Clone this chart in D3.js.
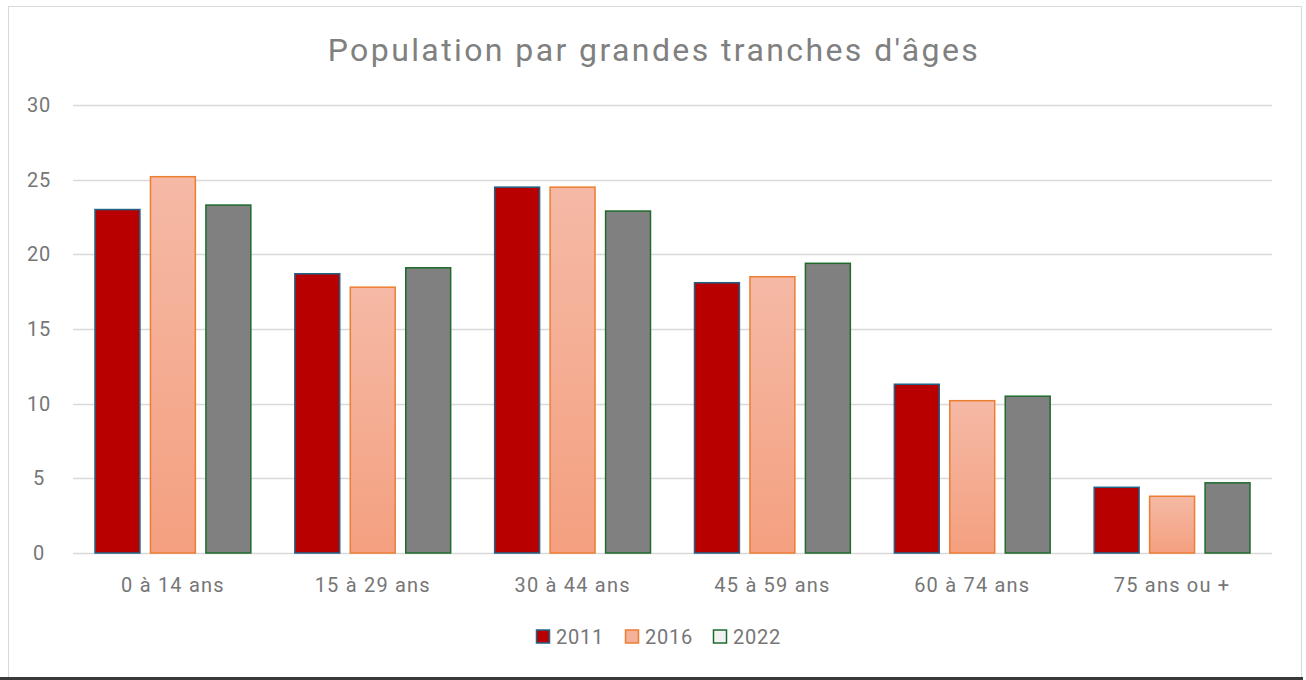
<!DOCTYPE html>
<html>
<head>
<meta charset="utf-8">
<script src="https://cdn.jsdelivr.net/npm/d3@7"></script>
<style>
  body { margin: 0; background: #fff; }
  svg { display: block; font-family: Roboto, "Open Sans", sans-serif; }
</style>
</head>
<body>
<script>
// values (%)
const categories = ['0 à 14 ans', '15 à 29 ans', '30 à 44 ans', '45 à 59 ans', '60 à 74 ans', '75 ans ou +'];
const years = ['2011', '2016', '2022'];
const v2011 = [23.0, 18.7, 24.5, 18.1, 11.3, 4.4];
const v2016 = [25.2, 17.8, 24.5, 18.5, 10.2, 3.8];
const v2022 = [23.3, 19.1, 22.9, 19.4, 10.5, 4.7];
const yTicks = [0, 5, 10, 15, 20, 25, 30];

const W = 1306, H = 680;
const margin = { top: 105, right: 34, bottom: 127, left: 73 };
const width = W - margin.left - margin.right;
const height = H - margin.top - margin.bottom;
const textGray = '#767676';

const series = [
  { key: '2011', values: v2011, fill: '#b90000', stroke: '#1f6388', legendFill: '#b90000' },
  { key: '2016', values: v2016, fill: 'url(#grad2016)', stroke: '#ed7d31', legendFill: '#f4b19a' },
  { key: '2022', values: v2022, fill: '#808080', stroke: '#1e6b2e', legendFill: '#f2f2f2' }
];

const svg = d3.select('body').append('svg')
  .attr('width', W)
  .attr('height', H);

const defs = svg.append('defs');
const grad = defs.append('linearGradient')
  .attr('id', 'grad2016')
  .attr('x1', 0).attr('y1', 0).attr('x2', 0).attr('y2', 1);
grad.append('stop').attr('offset', '0%').attr('stop-color', '#f5b9a5');
grad.append('stop').attr('offset', '100%').attr('stop-color', '#f4a080');

// chart frame
svg.append('rect')
  .attr('x', 8.5).attr('y', 6.5)
  .attr('width', 1293).attr('height', 671)
  .attr('fill', '#fff')
  .attr('stroke', '#d9d9d9')
  .attr('stroke-width', 1);
svg.append('rect')
  .attr('x', 0).attr('y', 677)
  .attr('width', 1303).attr('height', 3)
  .attr('fill', '#3a3a3a');

svg.append('text')
  .attr('x', W / 2 + 1)
  .attr('y', 61)
  .attr('text-anchor', 'middle')
  .attr('fill', '#808080')
  .style('font-size', '32px')
  .style('letter-spacing', '2.4px')
  .text("Population par grandes tranches d'âges");

const g = svg.append('g')
  .attr('transform', `translate(${margin.left}, ${margin.top})`);

const x0 = d3.scaleBand()
  .domain(categories)
  .range([0, width])
  .paddingInner(0)
  .paddingOuter(0);

const x1 = d3.scaleBand()
  .domain(years)
  .range([22, x0.bandwidth() - 22])
  .paddingInner(0.19);

const y = d3.scaleLinear()
  .domain([0, 30])
  .range([height, 0]);

// gridlines
g.append('g')
  .selectAll('line')
  .data(yTicks)
  .enter()
  .append('line')
  .attr('x1', 0)
  .attr('x2', width)
  .attr('y1', d => Math.round(y(d)) + 0.5)
  .attr('y2', d => Math.round(y(d)) + 0.5)
  .attr('stroke', '#d9d9d9')
  .attr('stroke-width', 1.5);

// y axis labels
g.append('g')
  .call(d3.axisLeft(y).tickValues(yTicks).tickSize(0).tickPadding(0))
  .call(a => a.select('.domain').remove())
  .selectAll('text')
  .attr('x', -34)
  .attr('text-anchor', 'middle')
  .attr('fill', textGray)
  .style('font-size', '20px')
  .style('letter-spacing', '0.8px')
  .style('font-family', 'Roboto, sans-serif');

// x axis labels
g.append('g')
  .attr('transform', `translate(0, ${height})`)
  .call(d3.axisBottom(x0).tickSize(0).tickPadding(25))
  .call(a => a.select('.domain').remove())
  .selectAll('text')
  .attr('fill', textGray)
  .style('font-size', '20px')
  .style('letter-spacing', '1.2px')
  .style('font-family', 'Roboto, sans-serif');

// bars
series.forEach(s => {
  g.append('g')
    .selectAll('rect')
    .data(s.values)
    .enter()
    .append('rect')
    .attr('x', (d, i) => x0(categories[i]) + x1(s.key))
    .attr('y', d => y(d))
    .attr('width', x1.bandwidth())
    .attr('height', d => y(0) - y(d))
    .attr('fill', s.fill)
    .attr('stroke', s.stroke)
    .attr('stroke-width', 1.5);
});

// legend
const legend = svg.append('g')
  .attr('transform', 'translate(536, 637)');
const legendX = [0, 89, 177];
series.forEach((s, i) => {
  const item = legend.append('g')
    .attr('transform', `translate(${legendX[i]}, 0)`);
  item.append('rect')
    .attr('x', 0.5).attr('y', -7)
    .attr('width', 13).attr('height', 13)
    .attr('fill', s.legendFill)
    .attr('stroke', s.stroke)
    .attr('stroke-width', 1.5);
  item.append('text')
    .attr('x', 20)
    .attr('y', 0)
    .attr('dy', '0.35em')
    .attr('fill', textGray)
    .style('font-size', '20px')
    .style('letter-spacing', '0.8px')
    .text(s.key);
});
</script>
</body>
</html>
